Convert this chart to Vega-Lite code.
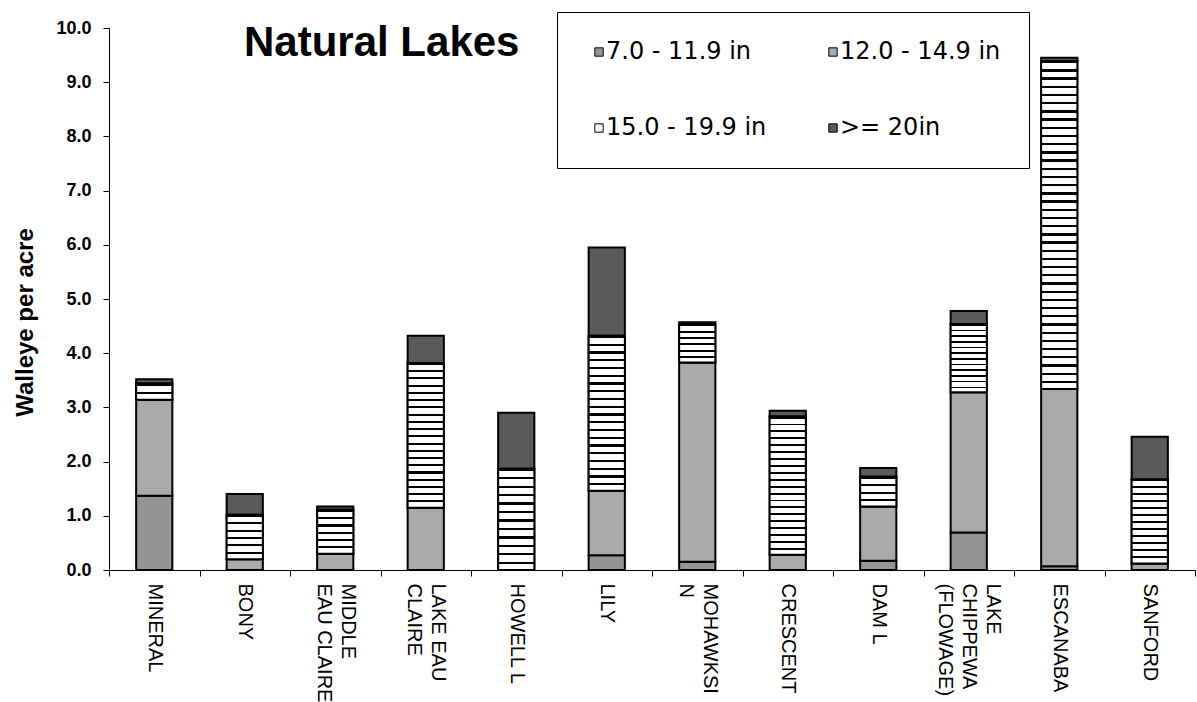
{
  "$schema": "https://vega.github.io/schema/vega-lite/v6.json",
  "autosize": {"type": "none"},
  "padding": {"left": 109, "top": 28, "right": 2, "bottom": 132},
  "width": 1086,
  "height": 542,
  "background": "white",
  "config": {"view": {"stroke": null}},
  "title": {"text": "Natural Lakes", "anchor": "start", "frame": "group", "font": "Liberation Sans", "fontSize": 42, "fontWeight": "bold", "color": "black", "baseline": "alphabetic", "offset": 0, "dx": 135, "dy": 86},
  "data": {"values": [
    {"lake": "MINERAL", "size": "7.0 - 11.9 in", "order": 1, "value": 1.37},
    {"lake": "MINERAL", "size": "12.0 - 14.9 in", "order": 2, "value": 1.77},
    {"lake": "MINERAL", "size": "15.0 - 19.9 in", "order": 3, "value": 0.30},
    {"lake": "MINERAL", "size": ">= 20in", "order": 4, "value": 0.08},
    {"lake": "BONY", "size": "7.0 - 11.9 in", "order": 1, "value": 0},
    {"lake": "BONY", "size": "12.0 - 14.9 in", "order": 2, "value": 0.20},
    {"lake": "BONY", "size": "15.0 - 19.9 in", "order": 3, "value": 0.82},
    {"lake": "BONY", "size": ">= 20in", "order": 4, "value": 0.38},
    {"lake": "MIDDLE EAU CLAIRE", "size": "7.0 - 11.9 in", "order": 1, "value": 0},
    {"lake": "MIDDLE EAU CLAIRE", "size": "12.0 - 14.9 in", "order": 2, "value": 0.30},
    {"lake": "MIDDLE EAU CLAIRE", "size": "15.0 - 19.9 in", "order": 3, "value": 0.81},
    {"lake": "MIDDLE EAU CLAIRE", "size": ">= 20in", "order": 4, "value": 0.06},
    {"lake": "LAKE EAU CLAIRE", "size": "7.0 - 11.9 in", "order": 1, "value": 0},
    {"lake": "LAKE EAU CLAIRE", "size": "12.0 - 14.9 in", "order": 2, "value": 1.15},
    {"lake": "LAKE EAU CLAIRE", "size": "15.0 - 19.9 in", "order": 3, "value": 2.67},
    {"lake": "LAKE EAU CLAIRE", "size": ">= 20in", "order": 4, "value": 0.50},
    {"lake": "HOWELL L", "size": "7.0 - 11.9 in", "order": 1, "value": 0},
    {"lake": "HOWELL L", "size": "12.0 - 14.9 in", "order": 2, "value": 0},
    {"lake": "HOWELL L", "size": "15.0 - 19.9 in", "order": 3, "value": 1.87},
    {"lake": "HOWELL L", "size": ">= 20in", "order": 4, "value": 1.03},
    {"lake": "LILY", "size": "7.0 - 11.9 in", "order": 1, "value": 0.27},
    {"lake": "LILY", "size": "12.0 - 14.9 in", "order": 2, "value": 1.19},
    {"lake": "LILY", "size": "15.0 - 19.9 in", "order": 3, "value": 2.86},
    {"lake": "LILY", "size": ">= 20in", "order": 4, "value": 1.63},
    {"lake": "MOHAWKSIN", "size": "7.0 - 11.9 in", "order": 1, "value": 0.15},
    {"lake": "MOHAWKSIN", "size": "12.0 - 14.9 in", "order": 2, "value": 3.68},
    {"lake": "MOHAWKSIN", "size": "15.0 - 19.9 in", "order": 3, "value": 0.70},
    {"lake": "MOHAWKSIN", "size": ">= 20in", "order": 4, "value": 0.04},
    {"lake": "CRESCENT", "size": "7.0 - 11.9 in", "order": 1, "value": 0},
    {"lake": "CRESCENT", "size": "12.0 - 14.9 in", "order": 2, "value": 0.28},
    {"lake": "CRESCENT", "size": "15.0 - 19.9 in", "order": 3, "value": 2.55},
    {"lake": "CRESCENT", "size": ">= 20in", "order": 4, "value": 0.11},
    {"lake": "DAM L", "size": "7.0 - 11.9 in", "order": 1, "value": 0.17},
    {"lake": "DAM L", "size": "12.0 - 14.9 in", "order": 2, "value": 1.00},
    {"lake": "DAM L", "size": "15.0 - 19.9 in", "order": 3, "value": 0.55},
    {"lake": "DAM L", "size": ">= 20in", "order": 4, "value": 0.16},
    {"lake": "LAKE CHIPPEWA (FLOWAGE)", "size": "7.0 - 11.9 in", "order": 1, "value": 0.69},
    {"lake": "LAKE CHIPPEWA (FLOWAGE)", "size": "12.0 - 14.9 in", "order": 2, "value": 2.59},
    {"lake": "LAKE CHIPPEWA (FLOWAGE)", "size": "15.0 - 19.9 in", "order": 3, "value": 1.26},
    {"lake": "LAKE CHIPPEWA (FLOWAGE)", "size": ">= 20in", "order": 4, "value": 0.24},
    {"lake": "ESCANABA", "size": "7.0 - 11.9 in", "order": 1, "value": 0.07},
    {"lake": "ESCANABA", "size": "12.0 - 14.9 in", "order": 2, "value": 3.27},
    {"lake": "ESCANABA", "size": "15.0 - 19.9 in", "order": 3, "value": 6.05},
    {"lake": "ESCANABA", "size": ">= 20in", "order": 4, "value": 0.06},
    {"lake": "SANFORD", "size": "7.0 - 11.9 in", "order": 1, "value": 0},
    {"lake": "SANFORD", "size": "12.0 - 14.9 in", "order": 2, "value": 0.12},
    {"lake": "SANFORD", "size": "15.0 - 19.9 in", "order": 3, "value": 1.55},
    {"lake": "SANFORD", "size": ">= 20in", "order": 4, "value": 0.79}
  ]},
  "transform": [
    {"stack": "value", "groupby": ["lake"], "sort": [{"field": "order", "order": "ascending"}], "as": ["v0", "v1"]}
  ],
  "encoding": {
    "x": {
      "field": "lake", "type": "nominal",
      "sort": ["MINERAL", "BONY", "MIDDLE EAU CLAIRE", "LAKE EAU CLAIRE", "HOWELL L", "LILY", "MOHAWKSIN", "CRESCENT", "DAM L", "LAKE CHIPPEWA (FLOWAGE)", "ESCANABA", "SANFORD"],
      "scale": {"paddingInner": 0, "paddingOuter": 0},
      "axis": {
        "title": null, "labelAngle": 90, "labelAlign": "left", "labelBaseline": "middle",
        "labelFont": "Liberation Sans", "labelFontSize": 20, "labelLineHeight": 24, "labelColor": "black",
        "labelPadding": 7, "labelLimit": 300, "tickBand": "extent", "tickSize": 6, "tickColor": "black",
        "domainColor": "black", "labelOverlap": false,
        "labelOffset": {"condition": [
          {"test": "datum.value == 'MIDDLE EAU CLAIRE' || datum.value == 'LAKE EAU CLAIRE' || datum.value == 'MOHAWKSIN'", "value": 12},
          {"test": "datum.value == 'LAKE CHIPPEWA (FLOWAGE)'", "value": 24}
        ], "value": 0},
        "labelExpr": "datum.label == 'MIDDLE EAU CLAIRE' ? ['MIDDLE', 'EAU CLAIRE'] : datum.label == 'LAKE EAU CLAIRE' ? ['LAKE EAU', 'CLAIRE'] : datum.label == 'MOHAWKSIN' ? ['MOHAWKSI', 'N'] : datum.label == 'LAKE CHIPPEWA (FLOWAGE)' ? ['LAKE', 'CHIPPEWA', '(FLOWAGE)'] : datum.label"
      }
    },
    "y": {
      "field": "v1", "type": "quantitative",
      "scale": {"domain": [0, 10], "nice": false},
      "axis": {
        "title": "Walleye per acre", "values": [0, 1, 2, 3, 4, 5, 6, 7, 8, 9, 10], "format": ".1f", "grid": false,
        "labelFont": "Liberation Sans", "labelFontSize": 18, "labelFontWeight": "bold", "labelColor": "black",
        "labelPadding": 12, "tickSize": 6, "tickColor": "black", "domainColor": "black",
        "titleFont": "Liberation Sans", "titleFontSize": 24, "titleFontWeight": "bold", "titleColor": "black",
        "titleAngle": 270, "titleAlign": "center", "titleBaseline": "alphabetic", "titleX": -77, "titleY": 294
      }
    },
    "y2": {"field": "v0"}
  },
  "layer": [
    {
      "transform": [{"filter": "datum.value > 0"}],
      "mark": {"type": "bar", "width": {"band": 0.4}, "stroke": "black", "strokeWidth": 2},
      "encoding": {
        "fill": {
          "field": "size", "type": "nominal",
          "scale": {"domain": ["7.0 - 11.9 in", "12.0 - 14.9 in", "15.0 - 19.9 in", ">= 20in"], "range": ["#959595", "#aaaaaa", "#ffffff", "#5a5a5a"]},
          "legend": {
            "title": null, "orient": "none", "legendX": 448, "legendY": -16, "columns": 2, "direction": "horizontal",
            "gridAlign": "all", "columnPadding": 52, "rowPadding": 52, "padding": 28,
            "strokeColor": "black", "fillColor": "white",
            "labelFont": "DejaVu Sans", "labelFontSize": 24, "labelColor": "black", "labelLimit": 300, "labelOffset": -5,
            "symbolType": "square", "symbolSize": 70, "symbolStrokeColor": "black", "symbolStrokeWidth": 1, "symbolOffset": 2
          }
        }
      }
    },
    {
      "transform": [{"filter": "datum.size === '15.0 - 19.9 in' && datum.value > 4"}],
      "mark": {"type": "bar", "width": {"band": 0.4}, "stroke": "black", "strokeWidth": 2,
        "fill": {"gradient": "linear", "x1": 0, "y1": 0, "x2": 0, "y2": 1, "stops": [
          {"offset":0,"color":"#000"},{"offset":0.007,"color":"#000"},{"offset":0.007,"color":"#fff"},{"offset":0.025,"color":"#fff"},
          {"offset":0.025,"color":"#000"},{"offset":0.032,"color":"#000"},{"offset":0.032,"color":"#fff"},{"offset":0.05,"color":"#fff"},
          {"offset":0.05,"color":"#000"},{"offset":0.057,"color":"#000"},{"offset":0.057,"color":"#fff"},{"offset":0.075,"color":"#fff"},
          {"offset":0.075,"color":"#000"},{"offset":0.082,"color":"#000"},{"offset":0.082,"color":"#fff"},{"offset":0.1,"color":"#fff"},
          {"offset":0.1,"color":"#000"},{"offset":0.107,"color":"#000"},{"offset":0.107,"color":"#fff"},{"offset":0.125,"color":"#fff"},
          {"offset":0.125,"color":"#000"},{"offset":0.132,"color":"#000"},{"offset":0.132,"color":"#fff"},{"offset":0.15,"color":"#fff"},
          {"offset":0.15,"color":"#000"},{"offset":0.157,"color":"#000"},{"offset":0.157,"color":"#fff"},{"offset":0.175,"color":"#fff"},
          {"offset":0.175,"color":"#000"},{"offset":0.182,"color":"#000"},{"offset":0.182,"color":"#fff"},{"offset":0.2,"color":"#fff"},
          {"offset":0.2,"color":"#000"},{"offset":0.207,"color":"#000"},{"offset":0.207,"color":"#fff"},{"offset":0.225,"color":"#fff"},
          {"offset":0.225,"color":"#000"},{"offset":0.232,"color":"#000"},{"offset":0.232,"color":"#fff"},{"offset":0.25,"color":"#fff"},
          {"offset":0.25,"color":"#000"},{"offset":0.257,"color":"#000"},{"offset":0.257,"color":"#fff"},{"offset":0.275,"color":"#fff"},
          {"offset":0.275,"color":"#000"},{"offset":0.282,"color":"#000"},{"offset":0.282,"color":"#fff"},{"offset":0.3,"color":"#fff"},
          {"offset":0.3,"color":"#000"},{"offset":0.307,"color":"#000"},{"offset":0.307,"color":"#fff"},{"offset":0.325,"color":"#fff"},
          {"offset":0.325,"color":"#000"},{"offset":0.332,"color":"#000"},{"offset":0.332,"color":"#fff"},{"offset":0.35,"color":"#fff"},
          {"offset":0.35,"color":"#000"},{"offset":0.357,"color":"#000"},{"offset":0.357,"color":"#fff"},{"offset":0.375,"color":"#fff"},
          {"offset":0.375,"color":"#000"},{"offset":0.382,"color":"#000"},{"offset":0.382,"color":"#fff"},{"offset":0.4,"color":"#fff"},
          {"offset":0.4,"color":"#000"},{"offset":0.407,"color":"#000"},{"offset":0.407,"color":"#fff"},{"offset":0.425,"color":"#fff"},
          {"offset":0.425,"color":"#000"},{"offset":0.432,"color":"#000"},{"offset":0.432,"color":"#fff"},{"offset":0.45,"color":"#fff"},
          {"offset":0.45,"color":"#000"},{"offset":0.457,"color":"#000"},{"offset":0.457,"color":"#fff"},{"offset":0.475,"color":"#fff"},
          {"offset":0.475,"color":"#000"},{"offset":0.482,"color":"#000"},{"offset":0.482,"color":"#fff"},{"offset":0.5,"color":"#fff"},
          {"offset":0.5,"color":"#000"},{"offset":0.507,"color":"#000"},{"offset":0.507,"color":"#fff"},{"offset":0.525,"color":"#fff"},
          {"offset":0.525,"color":"#000"},{"offset":0.532,"color":"#000"},{"offset":0.532,"color":"#fff"},{"offset":0.55,"color":"#fff"},
          {"offset":0.55,"color":"#000"},{"offset":0.557,"color":"#000"},{"offset":0.557,"color":"#fff"},{"offset":0.575,"color":"#fff"},
          {"offset":0.575,"color":"#000"},{"offset":0.582,"color":"#000"},{"offset":0.582,"color":"#fff"},{"offset":0.6,"color":"#fff"},
          {"offset":0.6,"color":"#000"},{"offset":0.607,"color":"#000"},{"offset":0.607,"color":"#fff"},{"offset":0.625,"color":"#fff"},
          {"offset":0.625,"color":"#000"},{"offset":0.632,"color":"#000"},{"offset":0.632,"color":"#fff"},{"offset":0.65,"color":"#fff"},
          {"offset":0.65,"color":"#000"},{"offset":0.657,"color":"#000"},{"offset":0.657,"color":"#fff"},{"offset":0.675,"color":"#fff"},
          {"offset":0.675,"color":"#000"},{"offset":0.682,"color":"#000"},{"offset":0.682,"color":"#fff"},{"offset":0.7,"color":"#fff"},
          {"offset":0.7,"color":"#000"},{"offset":0.707,"color":"#000"},{"offset":0.707,"color":"#fff"},{"offset":0.725,"color":"#fff"},
          {"offset":0.725,"color":"#000"},{"offset":0.732,"color":"#000"},{"offset":0.732,"color":"#fff"},{"offset":0.75,"color":"#fff"},
          {"offset":0.75,"color":"#000"},{"offset":0.757,"color":"#000"},{"offset":0.757,"color":"#fff"},{"offset":0.775,"color":"#fff"},
          {"offset":0.775,"color":"#000"},{"offset":0.782,"color":"#000"},{"offset":0.782,"color":"#fff"},{"offset":0.8,"color":"#fff"},
          {"offset":0.8,"color":"#000"},{"offset":0.807,"color":"#000"},{"offset":0.807,"color":"#fff"},{"offset":0.825,"color":"#fff"},
          {"offset":0.825,"color":"#000"},{"offset":0.832,"color":"#000"},{"offset":0.832,"color":"#fff"},{"offset":0.85,"color":"#fff"},
          {"offset":0.85,"color":"#000"},{"offset":0.857,"color":"#000"},{"offset":0.857,"color":"#fff"},{"offset":0.875,"color":"#fff"},
          {"offset":0.875,"color":"#000"},{"offset":0.882,"color":"#000"},{"offset":0.882,"color":"#fff"},{"offset":0.9,"color":"#fff"},
          {"offset":0.9,"color":"#000"},{"offset":0.907,"color":"#000"},{"offset":0.907,"color":"#fff"},{"offset":0.925,"color":"#fff"},
          {"offset":0.925,"color":"#000"},{"offset":0.932,"color":"#000"},{"offset":0.932,"color":"#fff"},{"offset":0.95,"color":"#fff"},
          {"offset":0.95,"color":"#000"},{"offset":0.957,"color":"#000"},{"offset":0.957,"color":"#fff"},{"offset":0.975,"color":"#fff"},
          {"offset":0.975,"color":"#000"},{"offset":0.982,"color":"#000"},{"offset":0.982,"color":"#fff"},{"offset":1,"color":"#fff"}
        ]}
      }
    },
    {
      "transform": [{"filter": "datum.size === '15.0 - 19.9 in' && datum.value > 2 && datum.value <= 4"}],
      "mark": {"type": "bar", "width": {"band": 0.4}, "stroke": "black", "strokeWidth": 2,
        "fill": {"gradient": "linear", "x1": 0, "y1": 0, "x2": 0, "y2": 1, "stops": [
          {"offset":0,"color":"#000"},{"offset":0.014,"color":"#000"},{"offset":0.014,"color":"#fff"},{"offset":0.05,"color":"#fff"},
          {"offset":0.05,"color":"#000"},{"offset":0.064,"color":"#000"},{"offset":0.064,"color":"#fff"},{"offset":0.1,"color":"#fff"},
          {"offset":0.1,"color":"#000"},{"offset":0.114,"color":"#000"},{"offset":0.114,"color":"#fff"},{"offset":0.15,"color":"#fff"},
          {"offset":0.15,"color":"#000"},{"offset":0.164,"color":"#000"},{"offset":0.164,"color":"#fff"},{"offset":0.2,"color":"#fff"},
          {"offset":0.2,"color":"#000"},{"offset":0.214,"color":"#000"},{"offset":0.214,"color":"#fff"},{"offset":0.25,"color":"#fff"},
          {"offset":0.25,"color":"#000"},{"offset":0.264,"color":"#000"},{"offset":0.264,"color":"#fff"},{"offset":0.3,"color":"#fff"},
          {"offset":0.3,"color":"#000"},{"offset":0.314,"color":"#000"},{"offset":0.314,"color":"#fff"},{"offset":0.35,"color":"#fff"},
          {"offset":0.35,"color":"#000"},{"offset":0.364,"color":"#000"},{"offset":0.364,"color":"#fff"},{"offset":0.4,"color":"#fff"},
          {"offset":0.4,"color":"#000"},{"offset":0.414,"color":"#000"},{"offset":0.414,"color":"#fff"},{"offset":0.45,"color":"#fff"},
          {"offset":0.45,"color":"#000"},{"offset":0.464,"color":"#000"},{"offset":0.464,"color":"#fff"},{"offset":0.5,"color":"#fff"},
          {"offset":0.5,"color":"#000"},{"offset":0.514,"color":"#000"},{"offset":0.514,"color":"#fff"},{"offset":0.55,"color":"#fff"},
          {"offset":0.55,"color":"#000"},{"offset":0.564,"color":"#000"},{"offset":0.564,"color":"#fff"},{"offset":0.6,"color":"#fff"},
          {"offset":0.6,"color":"#000"},{"offset":0.614,"color":"#000"},{"offset":0.614,"color":"#fff"},{"offset":0.65,"color":"#fff"},
          {"offset":0.65,"color":"#000"},{"offset":0.664,"color":"#000"},{"offset":0.664,"color":"#fff"},{"offset":0.7,"color":"#fff"},
          {"offset":0.7,"color":"#000"},{"offset":0.714,"color":"#000"},{"offset":0.714,"color":"#fff"},{"offset":0.75,"color":"#fff"},
          {"offset":0.75,"color":"#000"},{"offset":0.764,"color":"#000"},{"offset":0.764,"color":"#fff"},{"offset":0.8,"color":"#fff"},
          {"offset":0.8,"color":"#000"},{"offset":0.814,"color":"#000"},{"offset":0.814,"color":"#fff"},{"offset":0.85,"color":"#fff"},
          {"offset":0.85,"color":"#000"},{"offset":0.864,"color":"#000"},{"offset":0.864,"color":"#fff"},{"offset":0.9,"color":"#fff"},
          {"offset":0.9,"color":"#000"},{"offset":0.914,"color":"#000"},{"offset":0.914,"color":"#fff"},{"offset":0.95,"color":"#fff"},
          {"offset":0.95,"color":"#000"},{"offset":0.964,"color":"#000"},{"offset":0.964,"color":"#fff"},{"offset":1,"color":"#fff"}
        ]}
      }
    },
    {
      "transform": [{"filter": "datum.size === '15.0 - 19.9 in' && datum.value > 1.1 && datum.value <= 2"}],
      "mark": {"type": "bar", "width": {"band": 0.4}, "stroke": "black", "strokeWidth": 2,
        "fill": {"gradient": "linear", "x1": 0, "y1": 0, "x2": 0, "y2": 1, "stops": [
          {"offset":0,"color":"#000"},{"offset":0.0233,"color":"#000"},{"offset":0.0233,"color":"#fff"},{"offset":0.0833,"color":"#fff"},
          {"offset":0.0833,"color":"#000"},{"offset":0.1067,"color":"#000"},{"offset":0.1067,"color":"#fff"},{"offset":0.1667,"color":"#fff"},
          {"offset":0.1667,"color":"#000"},{"offset":0.19,"color":"#000"},{"offset":0.19,"color":"#fff"},{"offset":0.25,"color":"#fff"},
          {"offset":0.25,"color":"#000"},{"offset":0.2733,"color":"#000"},{"offset":0.2733,"color":"#fff"},{"offset":0.3333,"color":"#fff"},
          {"offset":0.3333,"color":"#000"},{"offset":0.3567,"color":"#000"},{"offset":0.3567,"color":"#fff"},{"offset":0.4167,"color":"#fff"},
          {"offset":0.4167,"color":"#000"},{"offset":0.44,"color":"#000"},{"offset":0.44,"color":"#fff"},{"offset":0.5,"color":"#fff"},
          {"offset":0.5,"color":"#000"},{"offset":0.5233,"color":"#000"},{"offset":0.5233,"color":"#fff"},{"offset":0.5833,"color":"#fff"},
          {"offset":0.5833,"color":"#000"},{"offset":0.6067,"color":"#000"},{"offset":0.6067,"color":"#fff"},{"offset":0.6667,"color":"#fff"},
          {"offset":0.6667,"color":"#000"},{"offset":0.69,"color":"#000"},{"offset":0.69,"color":"#fff"},{"offset":0.75,"color":"#fff"},
          {"offset":0.75,"color":"#000"},{"offset":0.7733,"color":"#000"},{"offset":0.7733,"color":"#fff"},{"offset":0.8333,"color":"#fff"},
          {"offset":0.8333,"color":"#000"},{"offset":0.8567,"color":"#000"},{"offset":0.8567,"color":"#fff"},{"offset":0.9167,"color":"#fff"},
          {"offset":0.9167,"color":"#000"},{"offset":0.94,"color":"#000"},{"offset":0.94,"color":"#fff"},{"offset":1,"color":"#fff"}
        ]}
      }
    },
    {
      "transform": [{"filter": "datum.size === '15.0 - 19.9 in' && datum.value > 0.6 && datum.value <= 1.1"}],
      "mark": {"type": "bar", "width": {"band": 0.4}, "stroke": "black", "strokeWidth": 2,
        "fill": {"gradient": "linear", "x1": 0, "y1": 0, "x2": 0, "y2": 1, "stops": [
          {"offset":0,"color":"#000"},{"offset":0.0467,"color":"#000"},{"offset":0.0467,"color":"#fff"},{"offset":0.1667,"color":"#fff"},
          {"offset":0.1667,"color":"#000"},{"offset":0.2133,"color":"#000"},{"offset":0.2133,"color":"#fff"},{"offset":0.3333,"color":"#fff"},
          {"offset":0.3333,"color":"#000"},{"offset":0.38,"color":"#000"},{"offset":0.38,"color":"#fff"},{"offset":0.5,"color":"#fff"},
          {"offset":0.5,"color":"#000"},{"offset":0.5467,"color":"#000"},{"offset":0.5467,"color":"#fff"},{"offset":0.6667,"color":"#fff"},
          {"offset":0.6667,"color":"#000"},{"offset":0.7133,"color":"#000"},{"offset":0.7133,"color":"#fff"},{"offset":0.8333,"color":"#fff"},
          {"offset":0.8333,"color":"#000"},{"offset":0.88,"color":"#000"},{"offset":0.88,"color":"#fff"},{"offset":1,"color":"#fff"}
        ]}
      }
    },
    {
      "transform": [{"filter": "datum.size === '15.0 - 19.9 in' && datum.value > 0.45 && datum.value <= 0.6"}],
      "mark": {"type": "bar", "width": {"band": 0.4}, "stroke": "black", "strokeWidth": 2,
        "fill": {"gradient": "linear", "x1": 0, "y1": 0, "x2": 0, "y2": 1, "stops": [
          {"offset":0,"color":"#000"},{"offset":0.07,"color":"#000"},{"offset":0.07,"color":"#fff"},{"offset":0.25,"color":"#fff"},
          {"offset":0.25,"color":"#000"},{"offset":0.32,"color":"#000"},{"offset":0.32,"color":"#fff"},{"offset":0.5,"color":"#fff"},
          {"offset":0.5,"color":"#000"},{"offset":0.57,"color":"#000"},{"offset":0.57,"color":"#fff"},{"offset":0.75,"color":"#fff"},
          {"offset":0.75,"color":"#000"},{"offset":0.82,"color":"#000"},{"offset":0.82,"color":"#fff"},{"offset":1,"color":"#fff"}
        ]}
      }
    },
    {
      "transform": [{"filter": "datum.size === '15.0 - 19.9 in' && datum.value > 0 && datum.value <= 0.45"}],
      "mark": {"type": "bar", "width": {"band": 0.4}, "stroke": "black", "strokeWidth": 2,
        "fill": {"gradient": "linear", "x1": 0, "y1": 0, "x2": 0, "y2": 1, "stops": [
          {"offset":0,"color":"#000"},{"offset":0.14,"color":"#000"},{"offset":0.14,"color":"#fff"},{"offset":0.5,"color":"#fff"},
          {"offset":0.5,"color":"#000"},{"offset":0.64,"color":"#000"},{"offset":0.64,"color":"#fff"},{"offset":1,"color":"#fff"}
        ]}
      }
    }
  ]
}
